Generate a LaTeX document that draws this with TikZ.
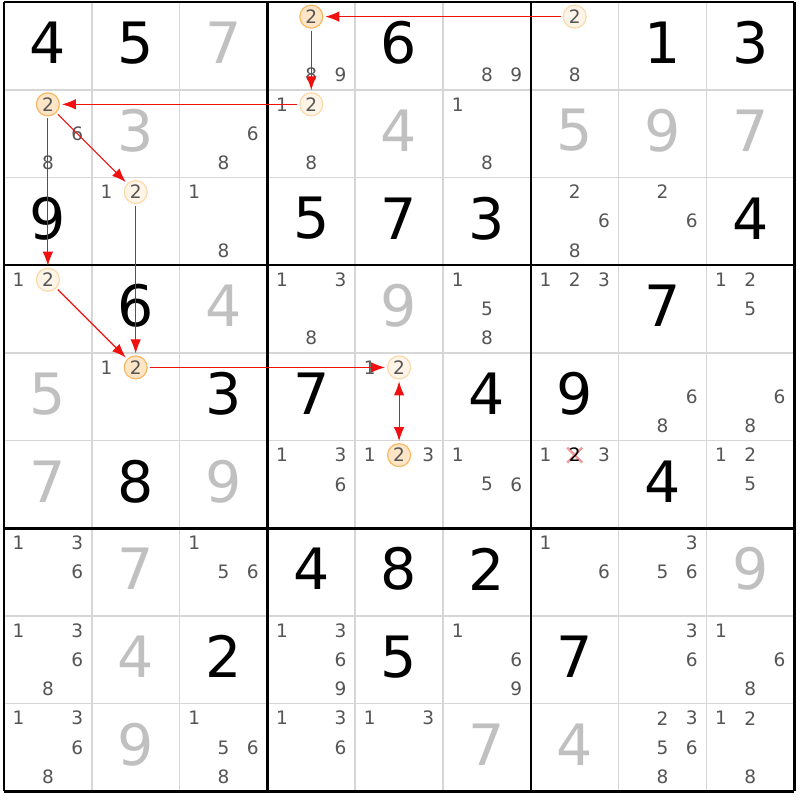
\documentclass[tikz,border=0pt]{standalone}
\usepackage{fontspec}
\setmainfont{DejaVu Sans}
\usetikzlibrary{arrows.meta}
\definecolor{candc}{HTML}{555555}
\definecolor{solved}{HTML}{C0C0C0}
\definecolor{thinline}{HTML}{D6D6D6}
\definecolor{chain}{HTML}{F01010}
\definecolor{ringAf}{HTML}{FEF5E8}
\definecolor{ringAd}{HTML}{FBDAAA}
\definecolor{ringBf}{HTML}{FDE5C6}
\definecolor{ringBd}{HTML}{F6B966}
\definecolor{crossc}{HTML}{F29A9A}
\newcommand\putcand[4][cand]{%
  \pgfmathsetmacro\candsx{int(mod(#4-1,3))-1}%
  \pgfmathsetmacro\candsy{int(floor((#4-1)/3))-1}%
  \node[#1] (k-#2-#3-#4) at ({4+87.8*(#3+0.5)+29.27*\candsx},{2+87.7*(#2+0.5)+29.23*\candsy}) {#4};}
\newcommand\putcands[3]{\foreach \cd in {#3}{\putcand{#1}{#2}{\cd}}}
\newcommand\putgiven[4][big]{%
  \node[#1] (g-#2-#3) at ({4+87.8*(#3+0.5)},{2+87.7*(#2+0.5)-3}) {#4};}
\begin{document}
\begin{tikzpicture}[x=1pt,y=-1pt,
  big/.style={font=\fontsize{57}{57}\selectfont, inner sep=0pt, text=black},
  bigs/.style={big, text=solved},
  cand/.style={font=\fontsize{18.5}{18.5}\selectfont, inner sep=0pt, text=candc},
  ringA/.style={cand, circle, minimum size=23pt, line width=1.2pt, draw=ringAd, fill=ringAf, outer sep=2.5pt},
  ringB/.style={cand, circle, minimum size=23pt, line width=1.2pt, draw=ringBd, fill=ringBf, outer sep=2.5pt},
  crossed/.style={cand, text=black},
  >={Latex[length=14pt,width=10.5pt]},
  link/.style={draw=chain, line width=1.15pt, ->},
  thingrid/.style={draw=thinline, line width=1.6pt},
  thickgrid/.style={draw=black, line width=2.6pt},
]
\useasboundingbox (0,0) rectangle (800,800);
\fill[white] (0,0) rectangle (800,800);
% grid
\foreach \i in {1,2,4,5,7,8}{
  \draw[thingrid] ({4+87.8*\i},2) -- ({4+87.8*\i},791.3);
  \draw[thingrid] (4,{2+87.7*\i}) -- (794.2,{2+87.7*\i});
}
\foreach \i in {0,3,6,9}{
  \draw[thickgrid] ({4+87.8*\i},2) -- ({4+87.8*\i},791.3);
  \draw[thickgrid] (4,{2+87.7*\i}) -- (794.2,{2+87.7*\i});
}
% given digits (black)
\foreach \gr/\gc/\gv in {0/0/4,0/1/5,0/4/6,0/7/1,0/8/3,
  2/0/9,2/3/5,2/4/7,2/5/3,2/8/4,
  3/1/6,3/7/7,
  4/2/3,4/3/7,4/5/4,4/6/9,
  5/1/8,5/7/4,
  6/3/4,6/4/8,6/5/2,
  7/2/2,7/4/5,7/6/7}{\putgiven{\gr}{\gc}{\gv}}
% solved digits (grey)
\foreach \gr/\gc/\gv in {0/2/7,
  1/1/3,1/4/4,1/6/5,1/7/9,1/8/7,
  3/2/4,3/4/9,
  4/0/5,
  5/0/7,5/2/9,
  6/1/7,6/8/9,
  7/1/4,
  8/1/9,8/5/7,8/6/4}{\putgiven[bigs]{\gr}{\gc}{\gv}}
% candidates
\putcands{0}{3}{8,9}
\putcands{0}{5}{8,9}
\putcands{0}{6}{8}
\putcands{1}{0}{6,8}
\putcands{1}{2}{6,8}
\putcands{1}{3}{1,8}
\putcands{1}{5}{1,8}
\putcands{2}{1}{1}
\putcands{2}{2}{1,8}
\putcands{2}{6}{2,6,8}
\putcands{2}{7}{2,6}
\putcands{3}{0}{1}
\putcands{3}{3}{1,3,8}
\putcands{3}{5}{1,5,8}
\putcands{3}{6}{1,2,3}
\putcands{3}{8}{1,2,5}
\putcands{4}{1}{1}
\putcands{4}{4}{1}
\putcands{4}{7}{6,8}
\putcands{4}{8}{6,8}
\putcands{5}{3}{1,3,6}
\putcands{5}{4}{1,3}
\putcands{5}{5}{1,5,6}
\putcands{5}{6}{1,3}
\putcands{5}{8}{1,2,5}
\putcands{6}{0}{1,3,6}
\putcands{6}{2}{1,5,6}
\putcands{6}{6}{1,6}
\putcands{6}{7}{3,5,6}
\putcands{7}{0}{1,3,6,8}
\putcands{7}{3}{1,3,6,9}
\putcands{7}{5}{1,6,9}
\putcands{7}{7}{3,6}
\putcands{7}{8}{1,6,8}
\putcands{8}{0}{1,3,6,8}
\putcands{8}{2}{1,5,6,8}
\putcands{8}{3}{1,3,6}
\putcands{8}{4}{1,3}
\putcands{8}{7}{2,3,5,6,8}
\putcands{8}{8}{1,2,8}
% ringed candidates 2
\putcand[ringA]{0}{6}{2}
\putcand[ringB]{0}{3}{2}
\putcand[ringA]{1}{3}{2}
\putcand[ringB]{1}{0}{2}
\putcand[ringA]{2}{1}{2}
\putcand[ringA]{3}{0}{2}
\putcand[ringB]{4}{1}{2}
\putcand[ringA]{4}{4}{2}
\putcand[ringB]{5}{4}{2}
% eliminated candidate
\coordinate (xc) at ({4+87.8*6.5},{2+87.7*5.5-29.23});
\draw[crossc, line width=2.4pt] ([shift={(-7.5,-7.5)}]xc) -- ([shift={(7.5,7.5)}]xc)
  ([shift={(-7.5,7.5)}]xc) -- ([shift={(7.5,-7.5)}]xc);
\putcand[crossed]{5}{6}{2}
% chain links
\draw[link] (k-0-6-2) -- (k-0-3-2);
\draw[link] (k-0-3-2) -- (k-1-3-2);
\draw[link] (k-1-3-2) -- (k-1-0-2);
\draw[link] (k-1-0-2) -- (k-2-1-2);
\draw[link] (k-1-0-2) -- (k-3-0-2);
\draw[link] (k-2-1-2) -- (k-4-1-2);
\draw[link] (k-3-0-2) -- (k-4-1-2);
\draw[link] (k-4-1-2) -- (k-4-4-2);
\draw[link, <->] (k-4-4-2) -- (k-5-4-2);
\end{tikzpicture}
\end{document}
